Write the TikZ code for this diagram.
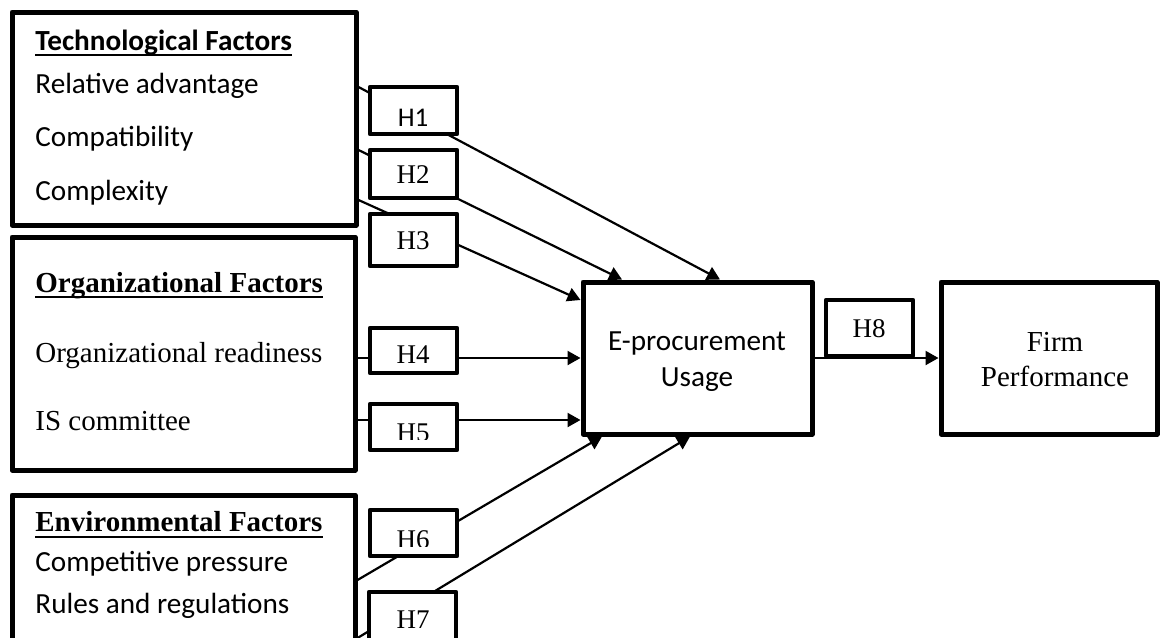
\documentclass[tikz,border=0pt]{standalone}
\usepackage{fontspec}
\setmainfont{Liberation Serif}
\newfontfamily\calfont{Carlito}
\usetikzlibrary{arrows.meta,fit}
\begin{document}
\begin{tikzpicture}[x=0.5pt,y=-0.5pt,
  factor/.style={draw, line width=2.5pt, inner sep=0pt, line join=round},
  hbox/.style={draw, fill=white, line width=2.3pt, inner sep=0pt, line join=round},
  link/.style={line width=1.1pt, -{Triangle[length=6.5pt,width=7pt]}},
  calt/.style={font=\calfont\fontsize{14.6pt}{17pt}\selectfont, anchor=base west, inner sep=0pt},
  calb/.style={font=\calfont\bfseries\fontsize{14.6pt}{17pt}\selectfont, anchor=base west, inner sep=0pt},
  tmt/.style={font=\fontsize{14.5pt}{17pt}\selectfont, anchor=base west, inner sep=0pt},
  tmb/.style={font=\bfseries\fontsize{14.5pt}{17pt}\selectfont, anchor=base west, inner sep=0pt},
  hlab/.style={font=\fontsize{13.5pt}{16pt}\selectfont, inner sep=0pt},
  uline/.style={line width=1.15pt}
]
\clip (0,0) rectangle (1160,637);
\fill[white] (0,0) rectangle (1160,637);

% factor boxes
\node[factor, fit={(12,12) (356,225)}] (tech) {};
\node[factor, fit={(12,237) (355,470)}] (org) {};
\node[factor, fit={(12,495) (355,690)}] (env) {};
\node[factor, fit={(583,282) (812,434)}] (eproc) {};
\node[factor, fit={(941,282) (1157,434)}] (firm) {};

% texts in factor boxes
\node[calb] (tt) at (35,50) {Technological Factors};
\draw[uline] ([yshift=-2.6pt]tt.base west) -- ([yshift=-2.6pt]tt.base east);
\node[calt] (t1) at (35,93) {Relative advantage};
\node[calt] (t2) at (35,146) {Compatibility};
\node[calt] (t3) at (35,200) {Complexity};

\node[tmb] (ot) at (35,292) {Organizational Factors};
\draw[uline] ([yshift=-2.6pt]ot.base west) -- ([yshift=-2.6pt]ot.base east);
\node[tmt] (o1) at (35,362.5) {Organizational readiness};
\node[tmt] (o2) at (35,430) {IS committee};

\node[tmb] (et) at (35,531.5) {Environmental Factors};
\draw[uline] ([yshift=-2.6pt]et.base west) -- ([yshift=-2.6pt]et.base east);
\node[calt] (e1) at (35,571.5) {Competitive pressure};
\node[calt] (e2) at (35,613) {Rules and regulations};

\node[font=\calfont\fontsize{14.6pt}{17pt}\selectfont, anchor=base, inner sep=0pt] (ep1) at (697,350) {E-procurement};
\node[font=\calfont\fontsize{14.6pt}{17pt}\selectfont, anchor=base, inner sep=0pt] (ep2) at (697,386) {Usage};
\node[font=\fontsize{14.5pt}{17pt}\selectfont, anchor=base, inner sep=0pt] (fp1) at (1055,351.5) {Firm};
\node[font=\fontsize{14.5pt}{17pt}\selectfont, anchor=base, inner sep=0pt] (fp2) at (1055,386) {Performance};

% connectors (drawn below the hypothesis boxes)
\draw[link] (tech.east |- 0,87) -- (eproc.north -| 720,0);
\draw[link] (tech.east |- 0,150) -- (eproc.north -| 622,0);
\draw[link] (tech.east |- 0,200) -- (eproc.west |- 0,300);
\draw[link] (org.east |- 0,358) -- (eproc.west |- 0,358);
\draw[link] (org.east |- 0,420) -- (eproc.west |- 0,420);
\draw[link] (env.east |- 0,580) -- (eproc.south -| 602,0);
\draw[link] (env.east |- 0,638) -- (eproc.south -| 690,0);
\draw[link] (eproc.east |- 0,358) -- (firm.west |- 0,358);

% hypothesis boxes
\node[hbox, fit={(370,87) (457,134)}] (h1) {};
\node[hbox, fit={(370,150) (457,198)}] (h2) {};
\node[hbox, fit={(370,214) (457,266)}] (h3) {};
\node[hbox, fit={(370,328) (457,373)}] (h4) {};
\node[hbox, fit={(370,404) (457,450)}] (h5) {};
\node[hbox, fit={(370,510) (457,556)}] (h6) {};
\node[hbox, fit={(369,592) (456,690)}] (h7) {};
\node[hbox, fit={(826,300) (913,356)}] (h8) {};

\node[hlab, font=\calfont\fontsize{13.5pt}{16pt}\selectfont] (l1) at (413,117.5) {H1};
\node[hlab] (l2) at (413,175) {H2};
\node[hlab] (l3) at (413,241) {H3};
\node[hlab] (l4) at (413,355) {H4};
\begin{scope}
  \clip (372,406) rectangle (455,439);
  \node[hlab] (l5) at (413,433) {H5};
\end{scope}
\begin{scope}
  \clip (372,512) rectangle (455,546);
  \node[hlab] (l6) at (413,540) {H6};
\end{scope}
\node[hlab] (l7) at (413,620) {H7};
\node[hlab] (l8) at (869,329) {H8};
\end{tikzpicture}
\end{document}
